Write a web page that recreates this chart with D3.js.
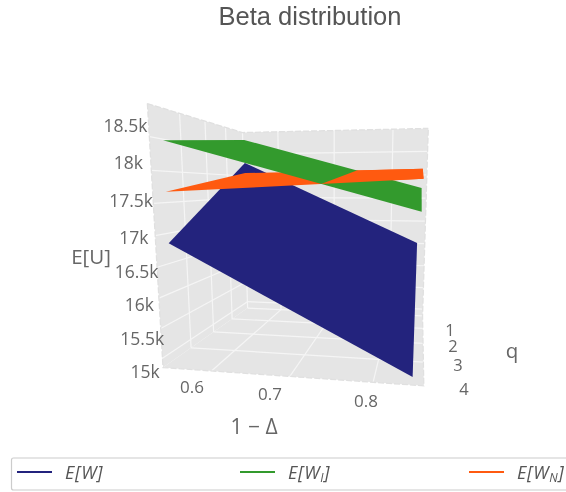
<!DOCTYPE html><html><head><meta charset="utf-8"><script src="https://cdn.jsdelivr.net/npm/d3@7"></script>
<style>html,body{margin:0;background:#fff;overflow:hidden}svg{display:block;filter:blur(.5px)}text{font-family:"Open Sans",sans-serif;fill:#666}</style></head><body><svg id="c" width="566" height="492"></svg><script>
// ---- data ----
const xTicks=[0.6,0.7,0.8];
const qTicks=[1,2,3,4];
const zTicks=[15000,15500,16000,16500,17000,17500,18000,18500];
const zTickLabels=["15k","15.5k","16k","16.5k","17k","17.5k","18k","18.5k"];
const qGrid=[0.9,4.6];
const xGridW=[0.535,0.845];
const xGridI=[0.535,0.85];
const xGridN=[0.535,0.851];
// rows follow qGrid, columns follow the surface's x grid
const valuesW=[[18301,16496],[16835,14807]];
const valuesI=[[18823,17721],[18483,17382]];
const valuesN=[[18069,18135],[17672,17862]];
const seriesNames=["E[W]","E[W_I]","E[W_N]"];
const seriesColors=["#23237d","#339a2d","#ff5a10"];
// ---- camera: cube corners as seen on the page ----
const anchors=[[0,0,0,246,309],[1,0,0,424,314],[0,1,0,165,367],[1,1,0,422,388],[0,0,1,243,133],[1,0,1,428,129],[0,1,1,147,102]];
function solve(M,b){const n=b.length;M=M.map((r,i)=>[...r,b[i]]);for(let i=0;i<n;i++){let p=i;for(let k=i;k<n;k++)if(Math.abs(M[k][i])>Math.abs(M[p][i]))p=k;[M[i],M[p]]=[M[p],M[i]];for(let k=0;k<n;k++)if(k!=i){const f=M[k][i]/M[i][i];for(let j=i;j<=n;j++)M[k][j]-=f*M[i][j];}}return M.map((r,i)=>r[n]/r[i]);}
const R=[],B=[];anchors.forEach(([u,v,w,x,y])=>{R.push([u,v,w,1,0,0,0,0,-x*u,-x*v,-x*w]);B.push(x);R.push([0,0,0,0,u,v,w,1,-y*u,-y*v,-y*w]);B.push(y);});
const idx=d3.range(11);
const m=solve(idx.map(i=>idx.map(j=>d3.sum(R,r=>r[i]*r[j]))),idx.map(i=>d3.sum(R,(r,k)=>r[i]*B[k])));
const proj=(u,v,w)=>{const d=m[8]*u+m[9]*v+m[10]*w+1;return[(m[0]*u+m[1]*v+m[2]*w+m[3])/d,(m[4]*u+m[5]*v+m[6]*w+m[7])/d];};
const xS=d3.scaleLinear().domain([0.535,0.858]).range([0,1]);
const qS=d3.scaleLinear().domain([1,5]).range([0,1]);
const zS=d3.scaleLinear().domain([14840,18980]).range([0,1]);
const P3=(x,q,z)=>proj(xS(x),qS(q),zS(z));
const svg=d3.select("#c"),line=d3.line();
const [xa,xb]=xS.domain(),[qa,qb]=qS.domain(),[za,zb]=zS.domain();
const qLo=1;
const g=svg.append("g");
// walls
const wallFill="#e5e5e5";
const walls=[[[xa,qLo,za],[xa,qb,za],[xa,qb,zb],[xa,qLo,zb]],[[xa,qLo,za],[xb,qLo,za],[xb,qLo,zb],[xa,qLo,zb]],[[xa,qLo,za],[xb,qLo,za],[xb,qb,za],[xa,qb,za]]];
g.selectAll("path.wall").data(walls).join("path").attr("class","wall").attr("fill",wallFill).attr("d",d=>line(d.map(p=>P3(...p)))+"Z");
// grid
const gridSeg=[];
zTicks.forEach(z=>{gridSeg.push([[xa,qb,z],[xa,qLo,z]],[[xa,qLo,z],[xb,qLo,z]]);});
qTicks.forEach(q=>{gridSeg.push([[xa,q,zb],[xa,q,za]],[[xa,q,za],[xb,q,za]]);});
xTicks.forEach(x=>{gridSeg.push([[x,qLo,zb],[x,qLo,za]],[[x,qLo,za],[x,qb,za]]);});
g.selectAll("path.grid").data(gridSeg).join("path").attr("class","grid").attr("fill","none").attr("stroke","#f5f5f5").attr("stroke-width",1.2).attr("d",d=>line(d.map(p=>P3(...p))));
// edges
const edges=[[[xa,qb,zb],[xa,qb,za],[xb,qb,za],[xb,qLo,za],[xb,qLo,zb]],[[xa,qb,zb],[xa,qLo,zb],[xb,qLo,zb]]];
g.selectAll("path.edge").data(edges).join("path").attr("class","edge").attr("fill","none").attr("stroke","#e0e0e0").attr("stroke-width",1.3).attr("stroke-dasharray","6,2").attr("d",d=>line(d.map(p=>P3(...p))));
// surfaces
const corners=(xg,v)=>[[xg[0],qGrid[0],v[0][0]],[xg[1],qGrid[0],v[0][1]],[xg[1],qGrid[1],v[1][1]],[xg[0],qGrid[1],v[1][0]]];
const sW=corners(xGridW,valuesW),sI=corners(xGridI,valuesI),sN=corners(xGridN,valuesN);
function zAt(xg,v,x,q){const a=(x-xg[0])/(xg[1]-xg[0]),b=(q-qGrid[0])/(qGrid[1]-qGrid[0]);return (1-b)*((1-a)*v[0][0]+a*v[0][1])+b*((1-a)*v[1][0]+a*v[1][1]);}
// part of the W_N sheet lying above the W_I sheet
function above(poly){const out=[],h=p=>p[2]-zAt(xGridI,valuesI,p[0],p[1]);poly.forEach((p,i)=>{const n=poly[(i+1)%poly.length],a=h(p),b=h(n);if(a>0)out.push(p);if((a>0)!==(b>0)){const t=a/(a-b);out.push([p[0]+t*(n[0]-p[0]),p[1]+t*(n[1]-p[1]),p[2]+t*(n[2]-p[2])]);}});return out;}
const layers=[[sW,0],[sN,2],[sI,1],[above(sN),2]];
g.selectAll("path.surf").data(layers).join("path").attr("class","surf").attr("fill",d=>seriesColors[d[1]]).attr("d",d=>line(d[0].map(p=>P3(...p)))+"Z");
// axis labels
const zLabX=d3.scaleLinear().domain([15000,18500]).range([145,125.5]);
const zLabY=d3.scaleLinear().domain([15000,17000,18000,18500]).range([372,238,163,126]);
g.selectAll("text.z").data(zTicks).join("text").attr("class","z").attr("x",zLabX).attr("y",zLabY).attr("dy","0.35em").attr("text-anchor","middle").attr("font-size",17.5).text((d,i)=>zTickLabels[i]);
const xLabX=d3.scaleLinear().domain([0.6,0.7,0.8]).range([192,270,366]);
const xLabY=d3.scaleLinear().domain([0.6,0.8]).range([387,401]);
g.selectAll("text.x").data(xTicks).join("text").attr("class","x").attr("x",xLabX).attr("y",xLabY).attr("dy","0.35em").attr("text-anchor","middle").attr("font-size",17).text(d3.format(".1f"));
const qLabX=d3.scaleLinear().domain([1,2,3,4]).range([450,453,458,464]);
const qLabY=d3.scaleLinear().domain([1,2,3,4]).range([330,346,365,389]);
g.selectAll("text.q").data(qTicks).join("text").attr("class","q").attr("x",qLabX).attr("y",qLabY).attr("dy","0.35em").attr("text-anchor","middle").attr("font-size",16.5).text(d=>d);
const lab=(t,x,y,s)=>g.append("text").attr("x",x).attr("y",y).attr("dy","0.35em").attr("text-anchor","middle").attr("font-size",s).text(t);
lab("E[U]",91,257,20.5);lab("1 − Δ",254,427,21);lab("q",512,351,20.5);
g.append("text").attr("x",310).attr("y",16).attr("dy","0.35em").attr("text-anchor","middle").attr("font-size",25.5).style("font-family","'Liberation Sans',sans-serif").style("fill","#555").text("Beta distribution");
// legend
g.append("rect").attr("x",11.5).attr("y",458).attr("width",570).attr("height",32).attr("rx",2).attr("fill","#fff").attr("stroke","#ccc").attr("stroke-width",1.2);
const legX=d3.scaleOrdinal().domain(seriesNames).range([17,240,469]);
const leg=g.selectAll("g.leg").data(seriesNames).join("g").attr("class","leg").attr("transform",d=>`translate(${legX(d)},472)`);
leg.append("line").attr("x1",0).attr("x2",35).attr("stroke",(d,i)=>seriesColors[i]).attr("stroke-width",2);
const lt=leg.append("text").attr("x",48).attr("y",1).attr("dy","0.35em").attr("font-size",18).attr("letter-spacing",0.8).attr("font-style","italic").style("fill","#555");
lt.each(function(d){const t=d3.select(this),[a,b]=d.replace("]","").split("_");if(b){t.append("tspan").text(a);t.append("tspan").attr("dy",3).attr("font-size",12).text(b);t.append("tspan").attr("dy",-3).text("]");}else t.text(d);});
</script></body></html>
